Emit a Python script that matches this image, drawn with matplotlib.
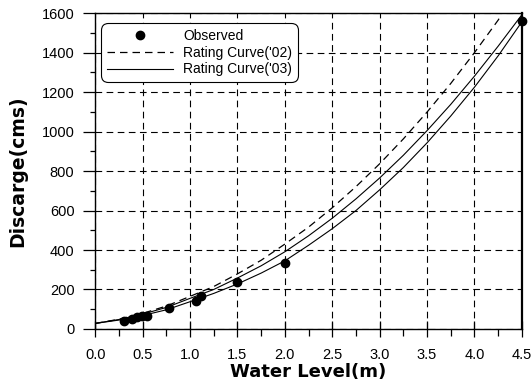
import matplotlib
matplotlib.use("Agg")
import matplotlib.pyplot as plt
from matplotlib.ticker import MultipleLocator

plt.rcParams['font.family'] = ['Liberation Sans', 'DejaVu Sans']

# Observed data
obs_h = [0.30, 0.39, 0.44, 0.49, 0.55, 0.78, 1.06, 1.12, 1.50, 2.00, 4.50]
obs_q = [40, 52, 59, 66, 66, 108, 143, 169, 240, 336, 1560]

# Rating curve '02 (dashed)
h02 = [0.0, 0.25, 0.5, 0.75, 1.0, 1.25, 1.5, 1.75, 2.0, 2.25, 2.5, 2.75,
       3.0, 3.25, 3.5, 3.75, 4.0, 4.25, 4.28]
q02 = [28, 49, 79, 116, 165, 215, 279, 348, 430, 516, 614, 721,
       837, 963, 1099, 1244, 1400, 1565, 1588]

# Rating curve '03 (upper solid)
h03a = [0.0, 0.25, 0.5, 0.75, 1.0, 1.25, 1.5, 1.75, 2.0, 2.25, 2.5, 2.75,
        3.0, 3.25, 3.5, 3.75, 4.0, 4.25, 4.5]
q03a = [28, 48, 75, 109, 155, 200, 258, 320, 391, 472, 561, 659,
        765, 880, 1005, 1138, 1281, 1433, 1592]

# Rating curve '03 (lower solid)
h03b = [0.0, 0.25, 0.5, 0.75, 1.0, 1.25, 1.5, 1.75, 2.0, 2.25, 2.5, 2.75,
        3.0, 3.25, 3.5, 3.75, 4.0, 4.25, 4.5]
q03b = [28, 45, 68, 97, 138, 180, 228, 283, 345, 424, 508, 600,
        705, 818, 943, 1079, 1225, 1384, 1556]

xticks = [0.0, 0.5, 1.0, 1.5, 2.0, 2.5, 3.0, 3.5, 4.0, 4.5]
yticks = [0, 200, 400, 600, 800, 1000, 1200, 1400, 1600]

fig = plt.figure(figsize=(5.32, 3.87), dpi=100)
ax = fig.add_axes([0.179, 0.150, 0.802, 0.816])

ax.plot(h02, q02, color='black', lw=0.9, linestyle=(0, (6, 4)), label="Rating Curve('02)")
ax.plot(h03a, q03a, color='black', lw=0.8, label="Rating Curve('03)")
ax.plot(h03b, q03b, color='black', lw=0.8)
ax.plot(obs_h, obs_q, 'o', color='black', markersize=6, label='Observed', zorder=5, clip_on=False)

ax.set_xlim(0, 4.5)
ax.set_ylim(0, 1600)
ax.set_xticks(xticks)
ax.set_xticklabels([f"{t:.1f}" for t in xticks])
ax.set_yticks(yticks)
ax.xaxis.set_minor_locator(MultipleLocator(0.25))
ax.yaxis.set_minor_locator(MultipleLocator(100))
ax.tick_params(axis='x', which='major', direction='inout', length=11, width=0.9, labelsize=10.5, pad=8)
ax.tick_params(axis='x', which='minor', direction='out', length=5, width=0.9)
ax.tick_params(axis='y', which='major', direction='out', length=9, width=0.9, labelsize=10.5, pad=6)
ax.tick_params(axis='y', which='minor', direction='out', length=3.5, width=0.9)

ax.grid(True, which='major', color='black', linestyle=(0, (6, 4)), linewidth=0.8)

for s in ax.spines.values():
    s.set_linewidth(1.0)
ax.spines['right'].set_linewidth(1.6)

ax.set_xlabel('Water Level(m)', fontsize=13, fontweight='bold', family='DejaVu Sans', labelpad=1)
ax.set_ylabel('Discarge(cms)', fontsize=13.5, fontweight='bold', family='DejaVu Sans', labelpad=10)

handles, labels = ax.get_legend_handles_labels()
order = [2, 0, 1]
leg = ax.legend([handles[i] for i in order], [labels[i] for i in order],
                loc='upper left', bbox_to_anchor=(0.014, 0.968), fontsize=10,
                frameon=True, fancybox=True, edgecolor='black', framealpha=1,
                handlelength=4.8, borderpad=0.4, labelspacing=0.2, handletextpad=0.7,
                borderaxespad=0)
leg.get_frame().set_linewidth(0.8)
leg.get_frame().set_boxstyle('round', pad=0, rounding_size=0.5)

fig.savefig('out.png', dpi=100)
